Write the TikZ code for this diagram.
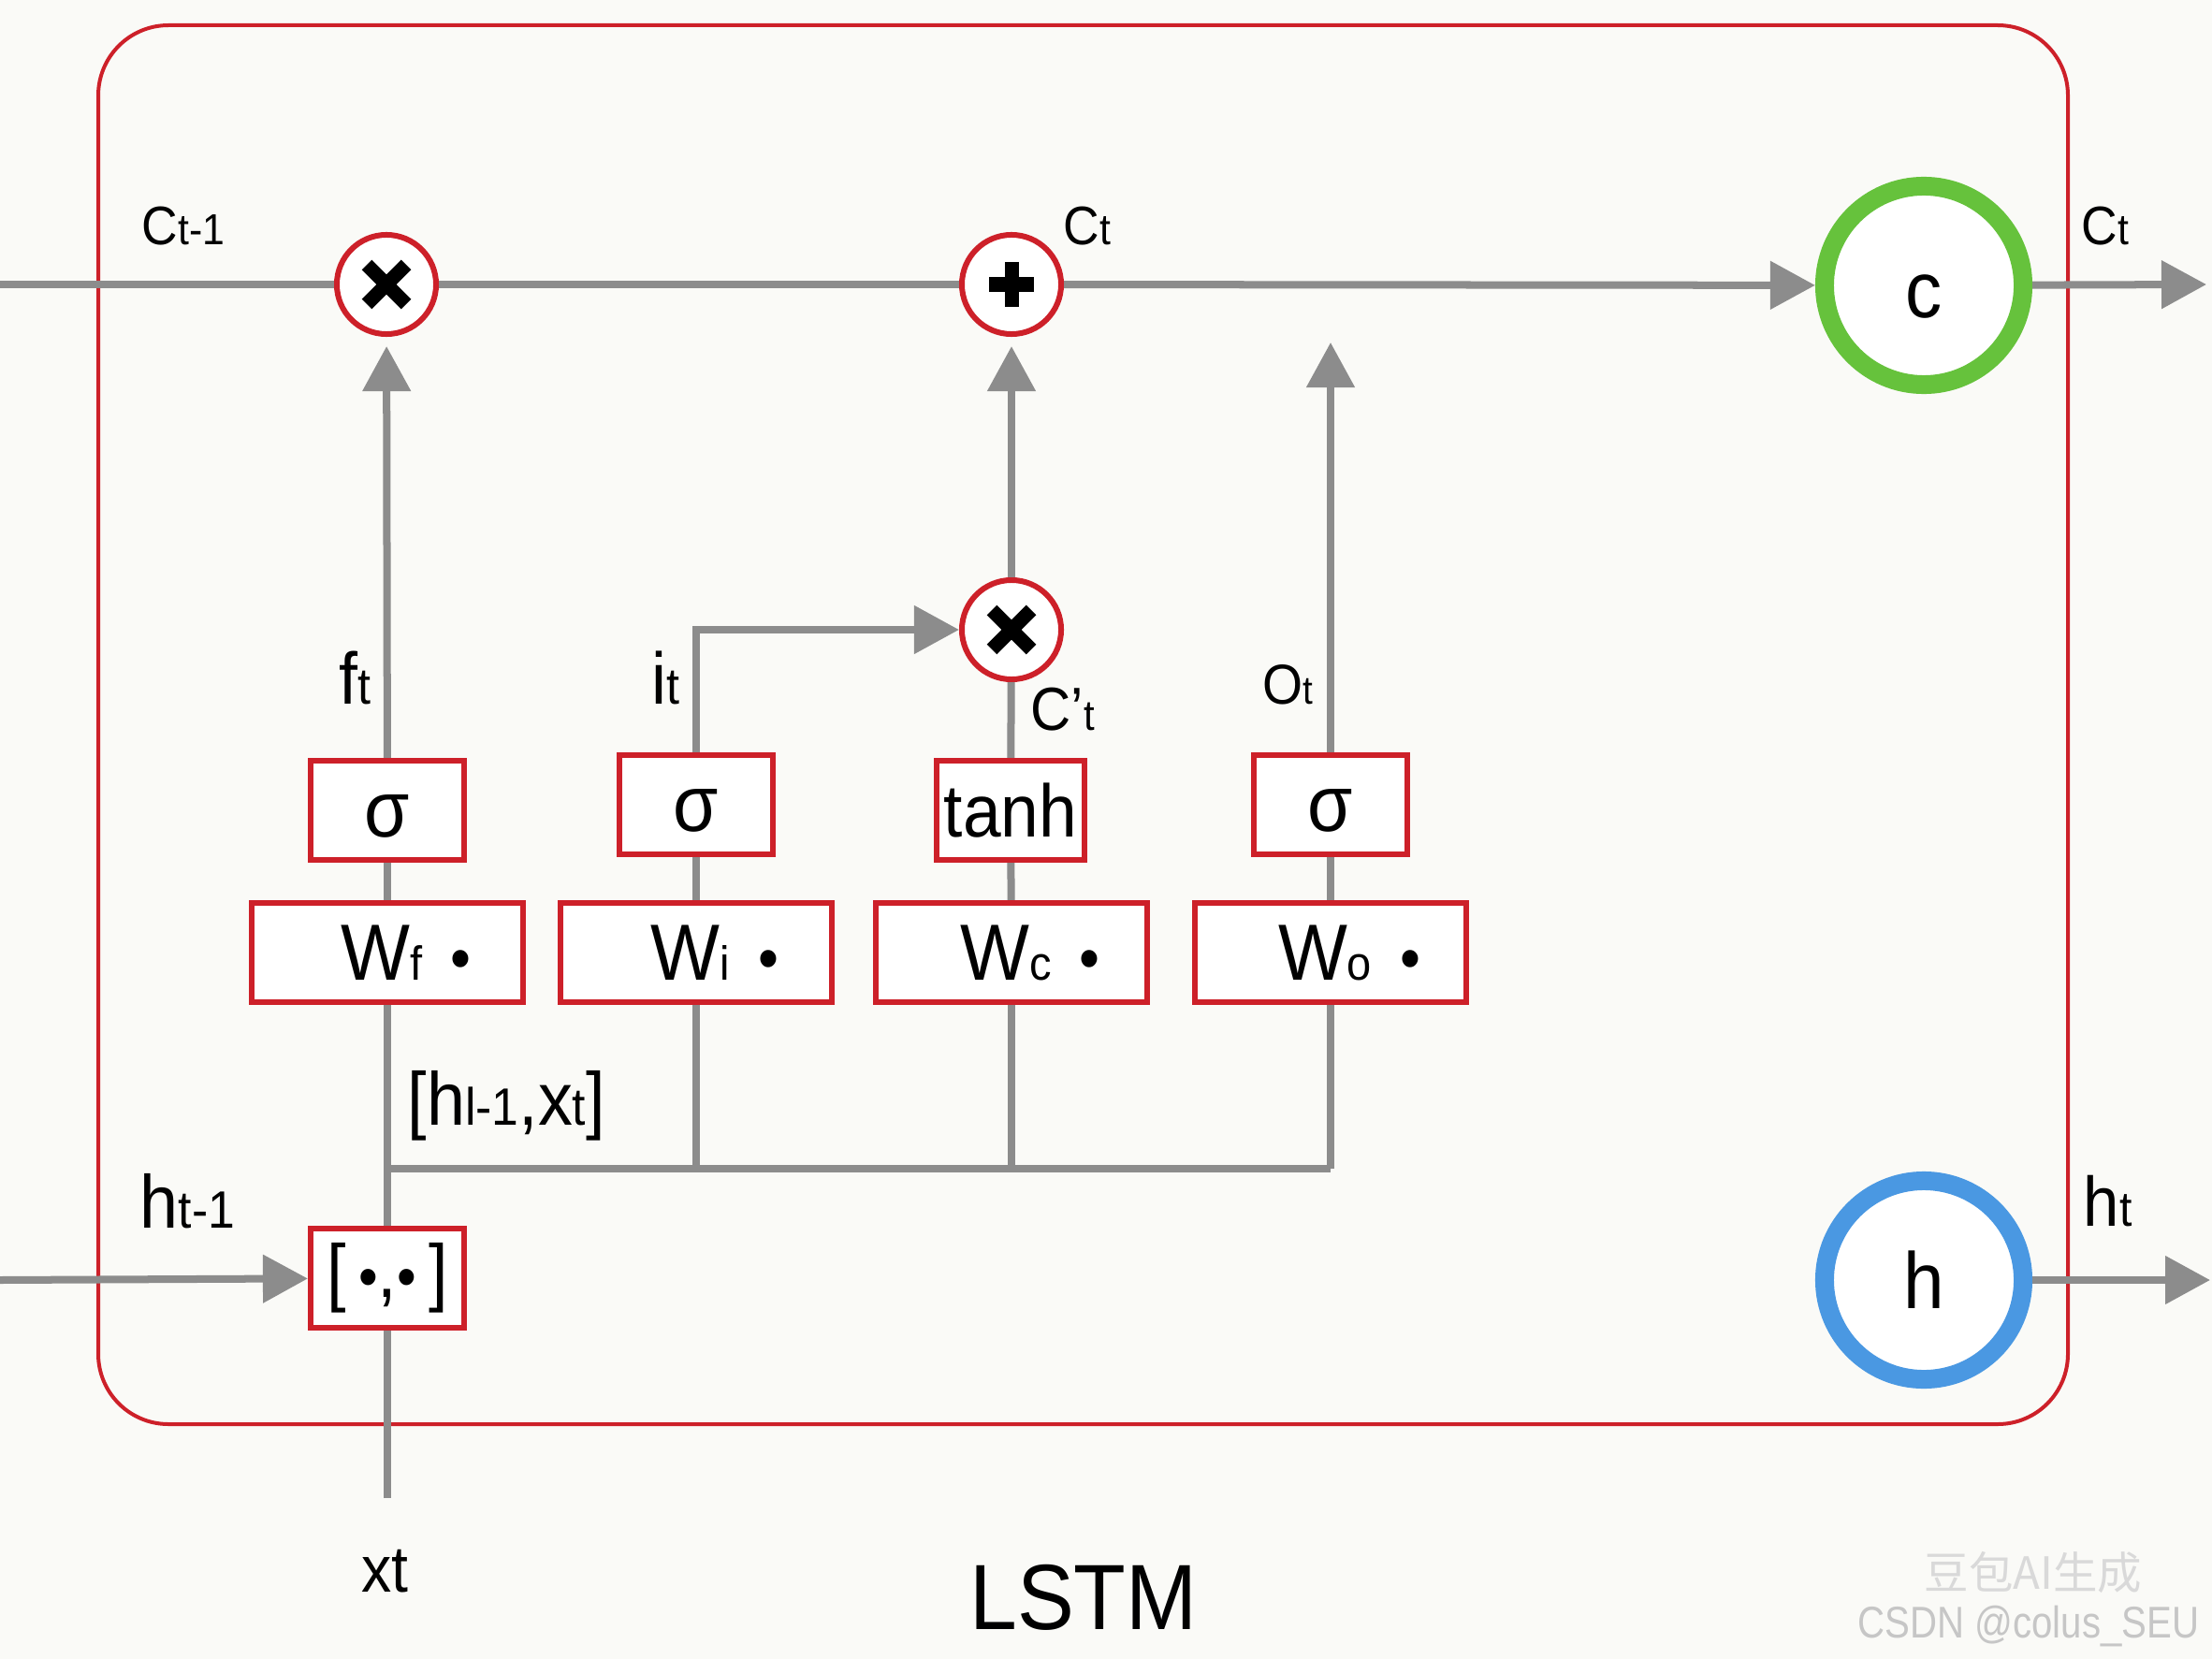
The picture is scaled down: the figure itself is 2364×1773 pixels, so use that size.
\documentclass[tikz,border=0pt]{standalone}
\usepackage{fontspec}
\setmainfont[FakeStretch=0.92]{Liberation Sans}
\newfontfamily\cjkfont{Noto Sans CJK SC}
\usetikzlibrary{arrows.meta}
\definecolor{lred}{RGB}{205,32,41}
\definecolor{lgray}{RGB}{140,140,140}
\definecolor{lgreen}{RGB}{102,194,60}
\definecolor{lblue}{RGB}{74,152,226}
\definecolor{bgcol}{RGB}{250,250,247}
\newcommand\lsub[1]{\scalebox{0.7}{#1}}
\newcommand\csub[1]{\scalebox{0.8}{#1}}
\newcommand\wsub[1]{\scalebox{0.6}{#1}}
\newcommand\wdot{\scalebox{0.8}{•}}
\begin{document}
\begin{tikzpicture}[x=0.01cm,y=-0.01cm,
  conn/.style={draw=lgray,line width=0.08cm},
  arr/.style={conn,-{Triangle[length=0.48cm,width=0.5cm]}},
  opnode/.style={circle,draw=lred,fill=white,line width=0.06cm,minimum size=1.06cm,inner sep=0},
  sym/.style={draw=black,line width=0.15cm},
  gatebox/.style={rectangle,draw=lred,fill=white,line width=0.06cm,minimum width=1.64cm,minimum height=1.06cm,inner sep=0,font=\fontsize{24.2pt}{24.2pt}\selectfont},
  sigbox/.style={gatebox,text height=0.56cm,text depth=0cm},
  wbox/.style={gatebox,minimum width=2.9cm},
  ring/.style={circle,fill=white,line width=0.2cm,minimum size=2.12cm,inner sep=0,font=\fontsize{24.2pt}{24.2pt}\selectfont},
  lab/.style={anchor=base west,inner sep=0},
  fA/.style={font=\fontsize{16.5pt}{16.5pt}\selectfont},
  fB/.style={font=\fontsize{22.2pt}{22.2pt}\selectfont},
  fC/.style={font=\fontsize{18.5pt}{18.5pt}\selectfont},
  fD/.style={font=\fontsize{17.1pt}{17.1pt}\selectfont},
  fE/.style={font=\fontsize{22.8pt}{22.8pt}\selectfont},
  fF/.style={font=\fontsize{21.3pt}{21.3pt}\selectfont},
  fG/.style={font=\fontsize{19.9pt}{19.9pt}\selectfont},
]
% background and frame
\fill[bgcol] (0,0) rectangle (2364,1773);
\useasboundingbox (0,0) rectangle (2364,1773);
\draw[lred,line width=0.04cm,rounded corners=0.75cm] (105,27) rectangle (2210,1522);

% operator circles
\node[opnode] (m1) at (413,304) {};
\node[opnode] (a1) at (1081,304) {};
\node[opnode] (m2) at (1081,673) {};
\draw[sym] ([shift={(-21,-21)}]m1.center) -- ([shift={(21,21)}]m1.center);
\draw[sym] ([shift={(-21,21)}]m1.center) -- ([shift={(21,-21)}]m1.center);
\draw[sym] ([shift={(-21,-21)}]m2.center) -- ([shift={(21,21)}]m2.center);
\draw[sym] ([shift={(-21,21)}]m2.center) -- ([shift={(21,-21)}]m2.center);
\draw[sym] ([shift={(-24,0)}]a1.center) -- ([shift={(24,0)}]a1.center);
\draw[sym] ([shift={(0,-24)}]a1.center) -- ([shift={(0,24)}]a1.center);

% state rings
\node[ring,draw=lgreen,text height=0.69cm,text depth=0cm] (cn) at (2056,305) {c};
\node[ring,draw=lblue] (hn) at (2056,1368) {h};

% gate boxes
\node[sigbox] (sf) at (414,866) {σ};
\node[sigbox] (si) at (744,860) {σ};
\node[gatebox,minimum width=1.58cm,font=\fontsize{22.6pt}{22.6pt}\selectfont] (st) at (1080,866) {tanh};
\node[sigbox] (so) at (1422,860) {σ};
\node[wbox] (wf) at (414,1018) {\hspace{0.4cm}W\wsub{f}\hspace{0.3cm}\wdot};
\node[wbox] (wi) at (744,1018) {\hspace{0.4cm}W\wsub{i}\hspace{0.3cm}\wdot};
\node[wbox] (wc) at (1081,1018) {\hspace{0.4cm}W\wsub{c}\hspace{0.3cm}\wdot};
\node[wbox] (wo) at (1422,1018) {\hspace{0.4cm}W\wsub{o}\hspace{0.3cm}\wdot};
\node[gatebox,font=\fontsize{22.8pt}{22.8pt}\selectfont] (cc) at (414,1366) {[\,\wdot,\wdot\,]};

% free ends
\coordinate (cin) at (0,304);
\coordinate (cout) at (2358,304);
\coordinate (hin) at (0,1368);
\coordinate (hout) at (2362,1368);
\coordinate (xin) at (414,1601);
\coordinate (oend) at (1422,366);
\coordinate (busL) at (414,1249);
\coordinate (busR) at (1422,1249);

% cell state line
\draw[conn] (cin) -- (m1);
\draw[conn] (m1) -- (a1);
\draw[arr] (a1) -- (cn);
\draw[arr] (cn) -- (cout);

% gates upward
\draw[arr,shorten >=0.1cm] (sf) -- (m1);
\draw[arr] (si.north) |- (m2.west);
\draw[conn] (st) -- (m2);
\draw[arr,shorten >=0.1cm] (m2) -- (a1);
\draw[arr] (so.north) -- (oend);

% W to sigma
\draw[conn] (wf) -- (sf);
\draw[conn] (wi.north) -- (si.south);
\draw[conn] (wc) -- (st);
\draw[conn] (wo.north) -- (so.south);

% bus
\draw[conn] (wf) -- (cc);
\draw[conn] (busL) -- (busR);
\draw[conn] (wi.south) -- (wi.south |- busL);
\draw[conn] (wc.south) -- (wc.south |- busL);
\draw[conn] (wo.south) -- (busR);

% inputs / outputs
\draw[arr] (hin) -- (cc);
\draw[conn] (xin) -- (cc);
\draw[arr] (hn) -- (hout);

% labels
\node[lab,fA] (lc0) at (151,262) {C\csub{t-1}};
\node[lab,fA] (lc1) at (1136,262) {C\csub{t}};
\node[lab,fA] (lc2) at (2224,262) {C\csub{t}};
\node[lab,fB] (lf) at (362,752) {f\lsub{t}};
\node[lab,fB] (li) at (696,752) {i\lsub{t}};
\node[lab,fC] (lct) at (1101,780) {C'\lsub{t}};
\node[lab,fD] (lo) at (1349,752) {O\lsub{t}};
\node[lab,fE] (lh0) at (149,1312) {h\lsub{t-1}};
\node[lab,fF] (lh1) at (2226,1310) {h\lsub{t}};
\node[lab,fE] (lcat) at (435,1202) {[h\lsub{l-1},x\lsub{t}]};
\node[lab,fG] (lx) at (386,1701) {xt};
\node[anchor=base,inner sep=0,font=\fontsize{28.2pt}{28.2pt}\selectfont] (title) at (1158,1741) {LSTM};

% watermark
\node[inner sep=0,text=gray!30,font=\cjkfont\fontsize{13.5pt}{13.5pt}\selectfont] (wm1) at (2173,1680) {豆包AI生成};
\node[inner sep=0,text=gray!45,font=\fontsize{13.5pt}{13.5pt}\selectfont] (wm2) at (2168,1738) {\scalebox{0.92}[1]{CSDN @colus\_SEU}};
\end{tikzpicture}
\end{document}
